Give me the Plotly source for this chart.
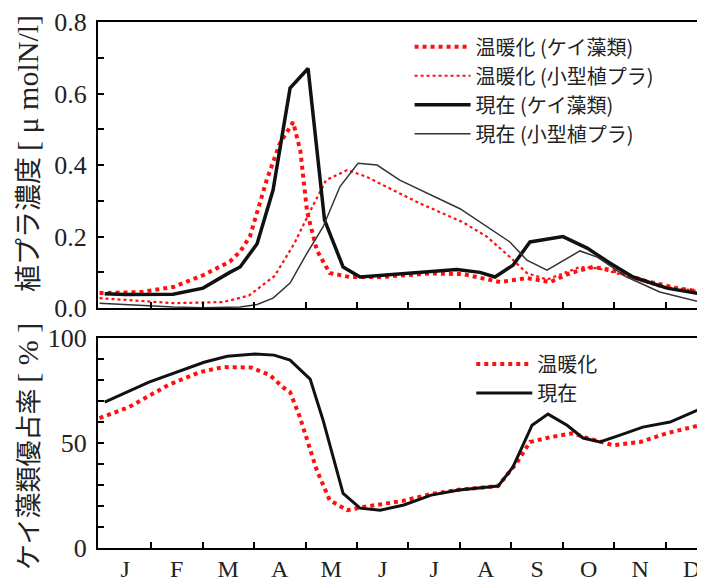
import plotly.graph_objects as go

# ---------------- data (x in months from 1 Jan; 0.5 = mid-January) ----------------
month_labels = ["J", "F", "M", "A", "M", "J", "J", "A", "S", "O", "N", "D"]
month_centers = [0.5, 1.5, 2.5, 3.5, 4.5, 5.5, 6.5, 7.5, 8.5, 9.5, 10.5, 11.5]
month_bounds = [1, 2, 3, 4, 5, 6, 7, 8, 9, 10, 11]

# top panel: phytoplankton concentration [μmolN/l]
warm_diatom_x = [0.0, 0.8, 1.43, 2.01, 2.53, 2.73, 2.92, 3.25, 3.50, 3.76, 3.90, 4.03, 4.22,
                 4.47, 4.86, 5.45, 6.42, 7.06, 7.78, 8.30, 8.75, 9.14, 9.58, 9.97, 10.55,
                 11.21, 11.72]
warm_diatom_y = [0.042, 0.045, 0.059, 0.092, 0.13, 0.158, 0.20, 0.36, 0.46, 0.52, 0.44, 0.27,
                 0.162, 0.098, 0.087, 0.087, 0.097, 0.095, 0.073, 0.084, 0.073, 0.098, 0.115,
                 0.106, 0.078, 0.056, 0.045]

warm_small_x = [0.0, 1.43, 2.40, 2.90, 3.40, 3.78, 4.10, 4.40, 4.81, 5.19, 5.70, 6.22, 7.06,
                7.52, 7.97, 8.30, 8.69, 9.33, 9.66, 10.24, 10.88, 11.66]
warm_small_y = [0.028, 0.014, 0.017, 0.035, 0.09, 0.18, 0.274, 0.358, 0.386, 0.367, 0.33,
                0.293, 0.24, 0.20, 0.143, 0.098, 0.08, 0.115, 0.112, 0.09, 0.06, 0.048]

now_diatom_x = [0.1, 0.5, 1.43, 2.01, 2.53, 2.73, 3.06, 3.37, 3.70, 4.05, 4.37, 4.73, 5.06,
                5.97, 6.94, 7.39, 7.68, 8.03, 8.36, 9.0, 9.47, 9.91, 10.36, 11.02, 11.66]
now_diatom_y = [0.04, 0.038, 0.039, 0.056, 0.10, 0.115, 0.18, 0.33, 0.615, 0.67, 0.246,
                0.115, 0.087, 0.097, 0.108, 0.10, 0.087, 0.12, 0.185, 0.20, 0.168, 0.126,
                0.087, 0.056, 0.04]

now_small_x = [0.0, 1.0, 1.43, 2.0, 2.73, 3.06, 3.37, 3.70, 4.03, 4.34, 4.67, 5.02, 5.39,
               5.83, 6.25, 7.0, 7.97, 8.30, 8.69, 9.33, 9.66, 10.24, 10.88, 11.66]
now_small_y = [0.014, 0.005, 0.003, 0.001, 0.003, 0.01, 0.028, 0.07, 0.154, 0.227, 0.34,
               0.405, 0.40, 0.358, 0.33, 0.278, 0.185, 0.134, 0.106, 0.16, 0.143, 0.087,
               0.045, 0.017]

# bottom panel: diatom dominance [%]
warm_dom_x = [0.0, 0.57, 1.33, 1.95, 2.40, 2.94, 3.31, 3.56, 3.70, 3.89, 4.22, 4.47, 4.81,
              5.12, 5.90, 6.44, 6.98, 7.74, 8.10, 8.36, 8.75, 9.19, 9.47, 9.97, 10.50,
              11.02, 11.66]
warm_dom_y = [61.9, 67.1, 77.6, 83.8, 86.2, 86.0, 82.4, 76.6, 74.3, 62.4, 37.0, 22.8, 18.0,
              19.5, 22.5, 25.7, 27.8, 29.5, 40.5, 50.5, 52.8, 54.7, 52.4, 49.0, 50.5, 54.7,
              58.5]

now_dom_x = [0.1, 0.96, 2.03, 2.48, 3.02, 3.39, 3.70, 4.09, 4.34, 4.73, 5.06, 5.45, 5.91,
             6.44, 6.98, 7.74, 8.03, 8.40, 8.71, 9.08, 9.39, 9.72, 10.11, 10.55, 11.08,
             11.66]
now_dom_y = [69.5, 79.0, 88.5, 91.4, 92.4, 91.9, 89.5, 80.5, 61.0, 26.0, 19.0, 18.0, 20.5,
             25.2, 27.6, 29.5, 38.6, 58.5, 63.8, 58.5, 52.4, 50.5, 53.8, 57.6, 60.0, 66.2]

# ---------------- figure ----------------
RED = "#ff1010"
SERIF = "Liberation Serif"
JP = "Noto Sans CJK JP"
XR = [-0.03, 11.72]

fig = go.Figure()

top_series = [
    (warm_diatom_x, warm_diatom_y, "温暖化 (ケイ藻類)", dict(color=RED, width=4, dash="4px,4px")),
    (warm_small_x, warm_small_y, "温暖化 (小型植プラ)", dict(color=RED, width=2.2, dash="3px,3px")),
    (now_diatom_x, now_diatom_y, "現在 (ケイ藻類)", dict(color="#111111", width=3.5)),
    (now_small_x, now_small_y, "現在 (小型植プラ)", dict(color="#333333", width=1.5)),
]
for i, (xs, ys, name, line) in enumerate(top_series):
    fig.add_trace(go.Scatter(x=xs, y=ys, name=name, mode="lines", line=line,
                             xaxis="x2", yaxis="y2", legend="legend",
                             legendgroup="t%d" % i))

bottom_series = [
    (warm_dom_x, warm_dom_y, "温暖化", dict(color=RED, width=4, dash="4px,4px")),
    (now_dom_x, now_dom_y, "現在", dict(color="#111111", width=3)),
]
for i, (xs, ys, name, line) in enumerate(bottom_series):
    fig.add_trace(go.Scatter(x=xs, y=ys, name=name, mode="lines", line=line,
                             xaxis="x", yaxis="y", legend="legend2",
                             legendgroup="b%d" % i))

frame = dict(showline=True, linewidth=2.2, linecolor="black", showgrid=False,
             zeroline=False, automargin=False)
tickfont = dict(family=SERIF, size=26, color="#222222")

xcommon = dict(range=XR, tickmode="array", tickvals=month_centers, ticktext=month_labels,
               ticks="inside", ticklen=0, mirror=True,
               minor=dict(tickmode="array", tickvals=month_bounds, ticks="inside",
                          ticklen=6, tickwidth=1.5, tickcolor="black"),
               **frame)

# the page body has an 8px default margin, so the figure is 8px smaller than the window
fig.update_layout(
    width=697, height=573,
    margin=dict(l=90, r=2, t=14, b=33),
    paper_bgcolor="white", plot_bgcolor="white",
    xaxis=dict(anchor="y", tickfont=dict(family=SERIF, size=24, color="#222222"),
               ticklabelstandoff=-2, **xcommon),
    xaxis2=dict(anchor="y2", matches="x", showticklabels=False, **xcommon),
    yaxis=dict(domain=[0, 0.399], range=[0, 100], tickmode="array", tickvals=[0, 50, 100],
               ticks="inside", ticklen=6, tickwidth=1.5, tickcolor="black", mirror="ticks",
               minor=dict(dtick=10, ticks="inside", ticklen=6, tickwidth=1.5, tickcolor="black"),
               tickfont=tickfont, ticklabelstandoff=4, **frame),
    yaxis2=dict(domain=[0.456, 1], range=[0, 0.8], tickmode="array",
                tickvals=[0, 0.2, 0.4, 0.6, 0.8], ticktext=["0.0", "0.2", "0.4", "0.6", "0.8"],
                ticks="inside", ticklen=6, tickwidth=1.5, tickcolor="black", mirror="ticks",
                minor=dict(dtick=0.1, ticks="inside", ticklen=6, tickwidth=1.5, tickcolor="black"),
                tickfont=tickfont, ticklabelstandoff=4, **frame),
    legend=dict(x=0.515, y=0.990, xanchor="left", yanchor="top", bgcolor="rgba(0,0,0,0)",
                font=dict(family=JP, size=20, color="#222222"), tracegroupgap=0,
                traceorder="normal", itemwidth=56),
    legend2=dict(x=0.617, y=0.387, xanchor="left", yanchor="top", bgcolor="rgba(0,0,0,0)",
                 font=dict(family=JP, size=20, color="#222222"), tracegroupgap=0,
                 traceorder="normal", itemwidth=56),
    showlegend=True,
    annotations=[
        dict(text="植プラ濃度 <span style='font-family:Liberation Serif;font-size:30px'>[ μ molN/l]</span>",
             xref="paper", yref="paper", x=-0.119, y=0.749, textangle=-90,
             xanchor="center", yanchor="middle", showarrow=False,
             font=dict(family=JP, size=27, color="#222222")),
        dict(text="ケイ藻類優占率 <span style='font-family:Liberation Serif;font-size:30px'>[ % ]</span>",
             xref="paper", yref="paper", x=-0.119, y=0.192, textangle=-90,
             xanchor="center", yanchor="middle", showarrow=False,
             font=dict(family=JP, size=26, color="#222222")),
    ],
)

fig.write_html("out.html", config={"displayModeBar": False})
